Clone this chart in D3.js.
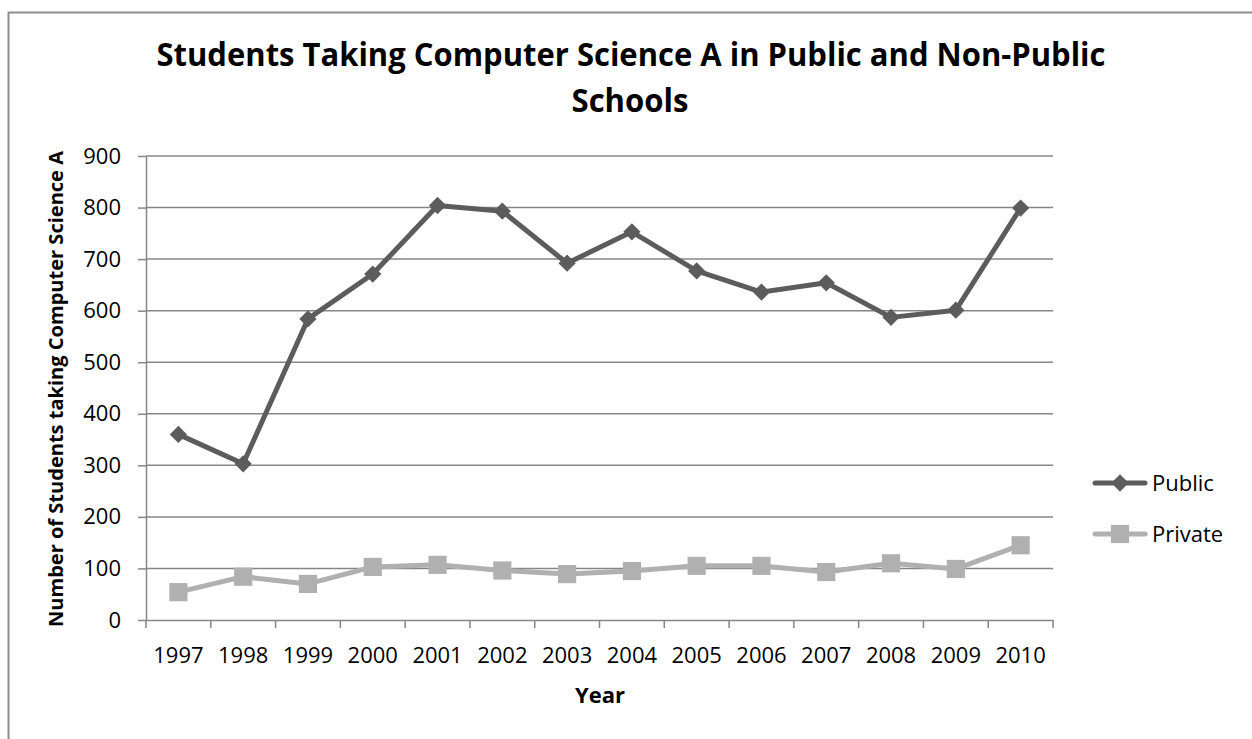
<!DOCTYPE html>
<html lang="en">
  <head>
    <meta charset="UTF-8" />
    <title>Students Taking Computer Science A</title>
    <script src="https://d3js.org/d3.v7.min.js"></script>
    <style>
      html, body { margin: 0; padding: 0; background: white; }
      svg { display: block; font-family: "Open Sans", sans-serif; }
    </style>
  </head>
  <body>
    <div class="visHolder"></div>
    <script>
      // ----------- Data ----------- //
      var years = ['1997', '1998', '1999', '2000', '2001', '2002', '2003',
                   '2004', '2005', '2006', '2007', '2008', '2009', '2010'];
      var publicValues = [360, 303, 584, 671, 804, 793, 692, 753, 677, 636, 654, 587, 601, 799];
      var privateValues = [54, 84, 70, 103, 107, 96, 89, 95, 105, 105, 93, 110, 99, 145];
      var yTicks = [0, 100, 200, 300, 400, 500, 600, 700, 800, 900];
      var seriesNames = ['Public', 'Private'];

      // ----------- Basic Variables ----------- //
      var width = 1252;
      var height = 739;
      var plot = { left: 146, right: 1053, top: 156, bottom: 620 };
      var publicColor = '#5c5c5c';
      var privateColor = '#b0b0b0';
      var gridColor = '#868686';

      var svg = d3.select('.visHolder')
        .append('svg')
        .attr('width', width)
        .attr('height', height);

      // outer chart border
      svg.append('rect')
        .attr('x', 8.5).attr('y', 12.5)
        .attr('width', width).attr('height', height)
        .attr('fill', 'white')
        .attr('stroke', '#8c8c8c')
        .attr('stroke-width', 2);

      // ----------- Scales ----------- //
      var xScale = d3.scaleBand()
        .domain(years)
        .range([plot.left, plot.right]);

      var yScale = d3.scaleLinear()
        .domain([0, 900])
        .range([plot.bottom, plot.top]);

      // ----------- Gridlines ----------- //
      svg.append('g')
        .selectAll('line')
        .data(yTicks.filter(d => d > 0))
        .enter()
        .append('line')
          .attr('x1', plot.left)
          .attr('x2', plot.right)
          .attr('y1', d => yScale(d))
          .attr('y2', d => yScale(d))
          .attr('stroke', gridColor)
          .attr('stroke-width', 1.5);

      // ----------- Axes ----------- //
      var yAxis = d3.axisLeft(yScale)
        .tickValues(yTicks)
        .tickSize(8)
        .tickPadding(17)
        .tickSizeOuter(0);

      var yG = svg.append('g')
        .attr('transform', 'translate(' + plot.left + ',0)')
        .call(yAxis);

      var xAxis = d3.axisBottom(xScale)
        .tickSize(0)
        .tickPadding(27)
        .tickSizeOuter(0);

      var xG = svg.append('g')
        .attr('transform', 'translate(0,' + plot.bottom + ')')
        .call(xAxis);

      // category boundary ticks, Excel style
      xG.append('g')
        .selectAll('line')
        .data(d3.range(years.length + 1))
        .enter()
        .append('line')
          .attr('x1', i => plot.left + i * xScale.bandwidth())
          .attr('x2', i => plot.left + i * xScale.bandwidth())
          .attr('y1', 0)
          .attr('y2', 8)
          .attr('stroke', gridColor)
          .attr('stroke-width', 1.5);

      [yG, xG].forEach(function (g) {
        g.selectAll('.domain').attr('stroke', gridColor).attr('stroke-width', 1.5);
        g.selectAll('.tick line').attr('stroke', gridColor).attr('stroke-width', 1.5);
        g.selectAll('.tick text')
          .attr('fill', '#000')
          .style('font-size', '22px')
          .style('font-family', '"Open Sans", sans-serif');
      });

      // ----------- Lines & markers ----------- //
      var cx = (d, i) => xScale(years[i]) + xScale.bandwidth() / 2;

      var line = d3.line()
        .x(cx)
        .y(d => yScale(d));

      svg.append('path')
        .datum(privateValues)
        .attr('d', line)
        .attr('fill', 'none')
        .attr('stroke', privateColor)
        .attr('stroke-width', 5)
        .attr('stroke-linejoin', 'round');

      svg.append('path')
        .datum(publicValues)
        .attr('d', line)
        .attr('fill', 'none')
        .attr('stroke', publicColor)
        .attr('stroke-width', 5)
        .attr('stroke-linejoin', 'round');

      var squareSym = d3.symbol().type(d3.symbolSquare).size(330);
      var diamondSym = d3.symbol().type(d3.symbolDiamond2).size(190);

      svg.append('g')
        .selectAll('path')
        .data(privateValues)
        .enter()
        .append('path')
          .attr('d', squareSym)
          .attr('transform', (d, i) => 'translate(' + cx(d, i) + ',' + yScale(d) + ')')
          .attr('fill', privateColor);

      svg.append('g')
        .selectAll('path')
        .data(publicValues)
        .enter()
        .append('path')
          .attr('d', diamondSym)
          .attr('transform', (d, i) => 'translate(' + cx(d, i) + ',' + yScale(d) + ')')
          .attr('fill', publicColor);

      // ----------- Titles ----------- //
      var title = svg.append('text')
        .attr('text-anchor', 'middle')
        .style('font-weight', 'bold')
        .style('font-size', '33px');
      title.append('tspan').attr('x', 631).attr('y', 66)
        .attr('textLength', 949)
        .attr('lengthAdjust', 'spacingAndGlyphs')
        .text('Students Taking Computer Science A in Public and Non-Public');
      title.append('tspan').attr('x', 630).attr('y', 112)
        .attr('textLength', 117)
        .attr('lengthAdjust', 'spacingAndGlyphs')
        .text('Schools');

      svg.append('text')
        .attr('transform', 'translate(63,' + ((plot.top + plot.bottom) / 2 + 1) + ') rotate(-90)')
        .attr('text-anchor', 'middle')
        .attr('textLength', 476)
        .attr('lengthAdjust', 'spacingAndGlyphs')
        .style('font-weight', 'bold')
        .style('font-size', '20px')
        .text('Number of Students taking Computer Science A');

      svg.append('text')
        .attr('x', 600)
        .attr('y', 703)
        .attr('text-anchor', 'middle')
        .style('font-weight', 'bold')
        .style('font-size', '22px')
        .text('Year');

      // ----------- Legend ----------- //
      var legend = svg.append('g').attr('transform', 'translate(1093,483)');
      var legendItems = [
        { name: seriesNames[0], color: publicColor, sym: diamondSym },
        { name: seriesNames[1], color: privateColor, sym: squareSym }
      ];
      var item = legend.selectAll('g')
        .data(legendItems)
        .enter()
        .append('g')
          .attr('transform', (d, i) => 'translate(0,' + i * 51 + ')');
      item.append('line')
        .attr('x1', 2).attr('x2', 52)
        .attr('stroke', d => d.color)
        .attr('stroke-width', 5)
        .attr('stroke-linecap', 'round');
      item.append('path')
        .attr('d', d => d.sym())
        .attr('transform', 'translate(27,0)')
        .attr('fill', d => d.color);
      item.append('text')
        .attr('x', 59)
        .attr('y', 8)
        .style('font-size', '22px')
        .text(d => d.name);
    </script>
  </body>
</html>
